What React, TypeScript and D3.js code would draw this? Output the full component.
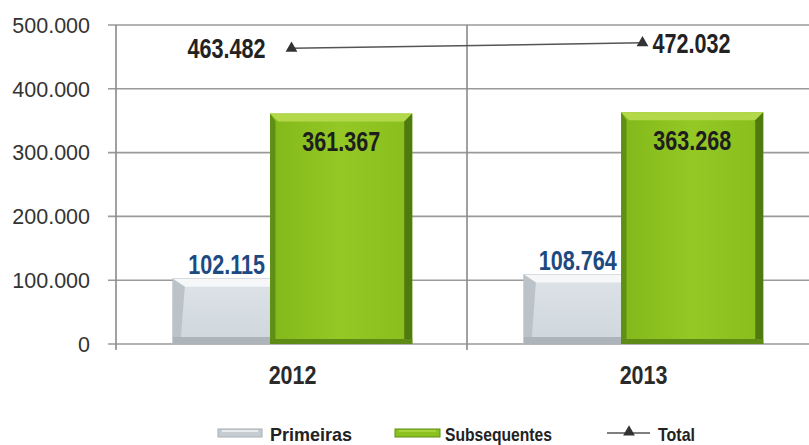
import React from "react";
import * as d3 from "d3";

const categories = ["2012", "2013"];
const primeiras = [102115, 108764];
const subsequentes = [361367, 363268];
const total = [463482, 472032];
const yTicks = [0, 100000, 200000, 300000, 400000, 500000];
const seriesNames = ["Primeiras", "Subsequentes", "Total"];

const W = 809;
const H = 445;
const SANS = "'Liberation Sans', Arial, sans-serif";

const fmt = (v: number) => d3.format(",")(v).replace(/,/g, ".");

function NText(props: {
  x: number;
  y: number;
  anchor?: "start" | "middle" | "end";
  size: number;
  sx?: number;
  fill: string;
  dy?: string;
  children: React.ReactNode;
}) {
  const { x, y, anchor = "start", size, sx = 0.8, fill, dy, children } = props;
  return (
    <text
      transform={`translate(${x},${y}) scale(${sx},1)`}
      textAnchor={anchor}
      fontFamily={SANS}
      fontWeight="bold"
      fontSize={size}
      fill={fill}
      dy={dy}
    >
      {children}
    </text>
  );
}

export default function App() {
  const x = d3.scaleBand<string>().domain(categories).range([116, 818]).padding(0);
  const y = d3.scaleLinear().domain([0, 500000]).range([344, 25]);
  const bw = x.bandwidth();
  const greyOff = bw * 0.162;
  const greyW = bw * 0.278;
  const greenOff = bw * 0.439;
  const greenW = bw * 0.405;
  const y0 = y(0);

  const lineGen = d3
    .line<number>()
    .x((_, i) => x(categories[i])! + bw / 2)
    .y((d) => y(d));

  const tri = d3.symbol().type(d3.symbolTriangle).size(60);

  return (
    <svg
      width={W}
      height={H}
      style={{ position: "absolute", left: 0, top: 0, background: "#fff" }}
    >
      <defs>
        <linearGradient id="greenG" x1="0" x2="1" y1="0" y2="0">
          <stop offset="0" stopColor="#82b81a" />
          <stop offset="0.5" stopColor="#93c825" />
          <stop offset="1" stopColor="#88bd1d" />
        </linearGradient>
        <linearGradient id="greyG" x1="0" x2="0" y1="0" y2="1">
          <stop offset="0" stopColor="#dde3e7" />
          <stop offset="1" stopColor="#cfd7dc" />
        </linearGradient>
      </defs>
      {/* gridlines */}
      {yTicks.map((t) => (
        <g key={t}>
          <line x1={108} x2={W} y1={y(t)} y2={y(t)} stroke="#9a9a9a" strokeWidth={1.6} />
          <text
            x={90}
            y={y(t)}
            dy="0.36em"
            textAnchor="end"
            fontFamily={SANS}
            fontSize={21.5}
            fill="#333"
          >
            {fmt(t)}
          </text>
        </g>
      ))}
      {/* vertical lines */}
      {[116, ...categories.map((c) => x(c)! + bw)].map((vx, i) => (
        <line key={i} x1={vx} x2={vx} y1={y(500000)} y2={y0 + 6} stroke="#8a8a8a" strokeWidth={1.6} />
      ))}
      {/* bars */}
      {categories.map((c, i) => {
        const bx = x(c)!;
        const gx = bx + greyOff;
        const gy = y(primeiras[i]);
        const gh = y0 - gy;
        const sx = bx + greenOff;
        const sy = y(subsequentes[i]);
        const sh = y0 - sy;
        const bev = 8;
        return (
          <g key={c}>
            {/* grey bar */}
            <rect x={gx} y={gy} width={greyW} height={gh} fill="url(#greyG)" stroke="#b7bec3" strokeWidth={1} />
            <polygon
              points={`${gx},${gy} ${gx + greyW},${gy} ${gx + greyW},${gy + bev} ${gx + bev * 1.5},${gy + bev} `}
              fill="#f5f7f8"
            />
            <polygon
              points={`${gx},${gy} ${gx + bev * 1.5},${gy + bev} ${gx + bev},${y0 - 7} ${gx},${y0}`}
              fill="#bcc3c8"
            />
            <rect x={gx} y={y0 - 7} width={greyW} height={7} fill="#aeb5ba" />
            {/* green bar */}
            <rect x={sx} y={sy} width={greenW} height={sh} fill="url(#greenG)" />
            <polygon
              points={`${sx},${sy} ${sx + greenW},${sy} ${sx + greenW - bev},${sy + bev} ${sx + bev},${sy + bev}`}
              fill="#b3d94a"
            />
            <polygon
              points={`${sx},${sy} ${sx + bev / 1.5},${sy + bev} ${sx + bev / 1.5},${y0 - 5} ${sx},${y0}`}
              fill="#5f8f14"
            />
            <polygon
              points={`${sx + greenW},${sy} ${sx + greenW - bev},${sy + bev} ${sx + greenW - bev},${y0 - 5} ${sx + greenW},${y0}`}
              fill="#4f7a10"
            />
            <rect x={sx} y={y0 - 5} width={greenW} height={5} fill="#5e8b15" />
            {/* labels */}
            <NText x={gx + greyW / 2 + 5} y={gy - 5} anchor="middle" size={27} fill="#1d4a80">
              {fmt(primeiras[i])}
            </NText>
            <NText x={sx + greenW / 2} y={sy + 38} anchor="middle" size={27} fill="#1e1e1e">
              {fmt(subsequentes[i])}
            </NText>
            <NText x={bx + bw / 2 + 1} y={384} anchor="middle" size={26.5} sx={0.81} fill="#2a2a2a">
              {c}
            </NText>
          </g>
        );
      })}
      {/* total line */}
      <path d={lineGen(total) || ""} fill="none" stroke="#555" strokeWidth={1.5} />
      {total.map((v, i) => {
        const cx = x(categories[i])! + bw / 2;
        const cy = y(v);
        return (
          <g key={i}>
            <path d={tri() || ""} transform={`translate(${cx},${cy})`} fill="#333" />
            <NText
              x={i === 0 ? cx - 26 : cx + 10}
              y={cy}
              dy="0.36em"
              anchor={i === 0 ? "end" : "start"}
              size={27}
              fill="#222"
            >
              {fmt(v)}
            </NText>
          </g>
        );
      })}
      {/* legend */}
      <g fontFamily={SANS} fontWeight="bold" fontSize={19} fill="#222">
        <rect x={218} y={429} width={44} height={8} fill="#c6cdd2" stroke="#a8afb4" />
        <line x1={222} x2={258} y1={431} y2={431} stroke="#f3f5f6" strokeWidth={1.5} />
        <text x={270} y={441} textLength={82} lengthAdjust="spacingAndGlyphs">{seriesNames[0]}</text>
        <rect x={395} y={429} width={45} height={8} fill="#8cc21f" stroke="#5f8f14" />
        <line x1={399} x2={436} y1={431} y2={431} stroke="#b3d94a" strokeWidth={1.5} />
        <text x={445} y={441} textLength={107} lengthAdjust="spacingAndGlyphs">{seriesNames[1]}</text>
        <line x1={607} x2={650} y1={433} y2={433} stroke="#555" strokeWidth={1.5} />
        <path d={tri() || ""} transform="translate(629,432)" fill="#333" />
        <text x={658} y={441} textLength={37} lengthAdjust="spacingAndGlyphs">{seriesNames[2]}</text>
      </g>
    </svg>
  );
}
